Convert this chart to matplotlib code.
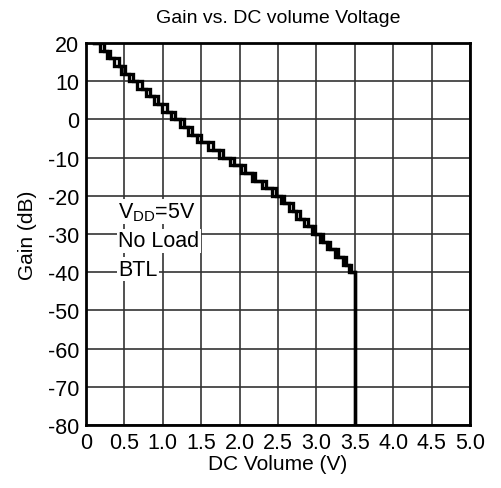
import matplotlib
matplotlib.use('Agg')
import matplotlib.pyplot as plt

plt.rcParams['font.family'] = ['Liberation Sans', 'DejaVu Sans']
plt.rcParams['axes.unicode_minus'] = False

# gain levels (dB) held between transitions
levels = [20, 18, 16, 14, 12, 10, 8, 6, 4, 2, 0, -2, -4, -6, -8, -10, -12,
          -14, -16, -18, -20, -22, -24, -26, -28, -30, -32, -34, -36, -38, -40]
# DC volume (V) where gain steps down, increasing sweep
edges_up = [0.18, 0.27, 0.37, 0.46, 0.56, 0.67, 0.78, 0.88, 0.99, 1.11,
            1.22, 1.33, 1.45, 1.59, 1.73, 1.88, 2.02, 2.16, 2.29, 2.42,
            2.54, 2.64, 2.74, 2.84, 2.94, 3.04, 3.14, 3.24, 3.34, 3.43]
# decreasing sweep (hysteresis)
edges_down = [0.23, 0.31, 0.43, 0.51, 0.61, 0.73, 0.83, 0.94, 1.05, 1.16,
              1.28, 1.38, 1.50, 1.65, 1.78, 1.93, 2.07, 2.20, 2.34, 2.47,
              2.58, 2.69, 2.78, 2.89, 2.98, 3.08, 3.18, 3.28, 3.38, 3.45]
x_start = 0.10
x_mute = 3.50
mute_gain = -80

xticks = [0, 0.5, 1.0, 1.5, 2.0, 2.5, 3.0, 3.5, 4.0, 4.5, 5.0]
xticklabels = ['0', '0.5', '1.0', '1.5', '2.0', '2.5', '3.0', '3.5', '4.0', '4.5', '5.0']
yticks = [20, 10, 0, -10, -20, -30, -40, -50, -60, -70, -80]


def staircase(edges):
    xs = [x_start]
    ys = [levels[0]]
    for e, a, b in zip(edges, levels[:-1], levels[1:]):
        xs += [e, e]
        ys += [a, b]
    xs += [x_mute, x_mute]
    ys += [levels[-1], mute_gain]
    return xs, ys


fig = plt.figure(figsize=(5.01, 4.89), dpi=100)
ax = fig.add_axes([0.1717, 0.1288, 0.7665, 0.7812])

for edges in (edges_up, edges_down):
    xs, ys = staircase(edges)
    ax.plot(xs, ys, color='black', lw=2.4, solid_joinstyle='miter')

ax.set_xlim(0, 5)
ax.set_ylim(-80, 20)
ax.set_xticks(xticks)
ax.set_xticklabels(xticklabels)
ax.set_yticks(yticks)
ax.grid(True, color='#333333', lw=1.2)
ax.tick_params(length=0, labelsize=15.5, pad=5)
for s in ax.spines.values():
    s.set_linewidth(2)

ax.set_title('Gain vs. DC volume Voltage', fontsize=14, pad=15)
ax.set_xlabel('DC Volume (V)', fontsize=15, labelpad=1)
ax.set_ylabel('Gain (dB)', fontsize=15, labelpad=8)

box = dict(facecolor='white', edgecolor='none', pad=1)
ax.text(0.42, -24.2, r'$\mathregular{V_{DD}}$=5V', fontsize=15.5, va='center', bbox=box)
ax.text(0.42, -31.8, 'No Load', fontsize=15.5, va='center', bbox=box)
ax.text(0.42, -39.2, 'BTL', fontsize=15.5, va='center', bbox=box)

fig.savefig('out.png', dpi=100)
